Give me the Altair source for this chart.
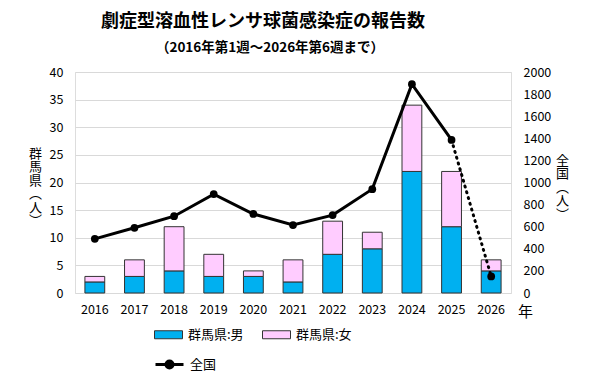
import altair as alt
import pandas as pd

years = ["2016", "2017", "2018", "2019", "2020", "2021", "2022", "2023", "2024", "2025", "2026"]
male = [2, 3, 4, 3, 3, 2, 7, 8, 22, 12, 4]
female = [1, 3, 8, 4, 1, 4, 6, 3, 12, 10, 2]
national = [490, 590, 695, 895, 715, 615, 705, 940, 1890, 1385, 150]
right_ticks = [0, 200, 400, 600, 800, 1000, 1200, 1400, 1600, 1800, 2000]
left_ticks = [0, 5, 10, 15, 20, 25, 30, 35, 40]

sex_labels = ["群馬県:男", "群馬県:女"]
title_text = "劇症型溶血性レンサ球菌感染症の報告数"
subtitle_text = "（2016年第1週～2026年第6週まで）"
FONT = "Noto Sans CJK JP"

rows = []
for y, m, f in zip(years, male, female):
    rows.append({"year": y, "sex": sex_labels[0], "n": m, "o": 0})
    rows.append({"year": y, "sex": sex_labels[1], "n": f, "o": 1})
bars_df = pd.DataFrame(rows)

nat_df = pd.DataFrame({"year": years, "nat": national, "s": "全国"})
solid_df = nat_df.iloc[:-1]
dotted_df = nat_df.iloc[-2:]

x_enc = alt.X(
    "year:N",
    sort=years,
    scale=alt.Scale(paddingInner=0.5, paddingOuter=0.25),
    axis=alt.Axis(
        title="年", titleX=450, titleY=18, titleAngle=0, titleBaseline="middle",
        titleAlign="center", titleFontSize=15, titleFontWeight="normal",
        labelAngle=0, ticks=False, domain=False, labelPadding=10,
        labelFontSize=12.5, labelFont=FONT, titleFont=FONT,
    ),
)

bars = alt.Chart(bars_df).mark_bar(stroke="#333333", strokeWidth=1).encode(
    x=x_enc,
    y=alt.Y(
        "n:Q", stack="zero",
        scale=alt.Scale(domain=[0, 40]),
        axis=alt.Axis(
            values=left_ticks, grid=True, gridColor="#D9D9D9",
            ticks=False, domain=False, labelPadding=12, labelFontSize=12.5,
            labelFont=FONT, labelOverlap=False,
            title=["群", "馬", "県", "︵", "人", "︶"], titleAngle=0,
            titleX=-40, titleY=81, titleAlign="center", titleBaseline="middle",
            titleFontSize=13, titleFontWeight="normal", titleLineHeight=13.5,
            titleFont=FONT,
        ),
    ),
    fill=alt.Fill(
        "sex:N",
        scale=alt.Scale(domain=sex_labels, range=["#00B0F0", "#FFCCFF"]),
        legend=alt.Legend(
            title=None, orient="none", legendX=79, legendY=248,
            direction="horizontal", columnPadding=16, labelOffset=5,
            symbolType="M-1,-0.2857H1V0.2857H-1Z", symbolSize=784,
            symbolStrokeColor="#333333", symbolStrokeWidth=1,
            labelFontSize=13, labelFont=FONT, labelColor="#000000", padding=0,
        ),
    ),
    order=alt.Order("o:Q", sort="ascending"),
)

nat_axis = alt.Axis(
    orient="right", values=right_ticks, format="d", grid=False,
    ticks=False, domain=False, labelPadding=12, labelFontSize=12.5,
    labelFont=FONT, labelOverlap=False,
    title=["全", "国", "︵", "人", "︶"], titleAngle=0,
    titleX=51, titleY=88, titleAlign="center", titleBaseline="middle",
    titleFontSize=13, titleFontWeight="normal", titleLineHeight=13.5,
    titleFont=FONT,
)


def y_nat():
    return alt.Y("nat:Q", scale=alt.Scale(domain=[0, 2000]), axis=nat_axis)


solid = alt.Chart(solid_df).mark_line(strokeWidth=3).encode(
    x=alt.X("year:N", sort=years),
    y=y_nat(),
    stroke=alt.Stroke(
        "s:N",
        scale=alt.Scale(domain=["全国"], range=["#000000"]),
        legend=alt.Legend(
            title=None, orient="none", legendX=79, legendY=277,
            labelOffset=5,
            symbolType="M-1,0H1M-0.25,0A0.25,0.25 0 1,1 0.25,0A0.25,0.25 0 1,1 -0.25,0Z",
            symbolSize=784, symbolStrokeWidth=3, symbolFillColor="#000000",
            symbolStrokeColor="#000000",
            labelFontSize=13, labelFont=FONT, labelColor="#000000", padding=0,
        ),
    ),
)

dotted = alt.Chart(dotted_df).mark_line(
    strokeWidth=3, strokeDash=[1, 5], strokeCap="round", color="#000000"
).encode(
    x=alt.X("year:N", sort=years),
    y=y_nat(),
)

points = alt.Chart(nat_df).mark_point(
    filled=True, size=60, color="#000000", opacity=1, shape="circle"
).encode(
    x=alt.X("year:N", sort=years),
    y=y_nat(),
)

lines = alt.layer(solid, dotted, points)

subtitle = alt.Chart(pd.DataFrame({"t": [subtitle_text]})).mark_text(
    font=FONT, fontSize=13.5, fontWeight="bold", color="#000000",
    align="center", baseline="middle",
).encode(
    text="t:N",
    x=alt.value(195),
    y=alt.value(-24),
)

chart = alt.layer(bars, lines, subtitle).resolve_scale(y="independent").properties(
    width=436,
    height=221,
    autosize=alt.AutoSizeParams(type="none"),
    padding={"left": 67, "top": 64, "right": 81, "bottom": 87},
    title=alt.TitleParams(
        text=title_text,
        anchor="middle", frame="group", dx=-30, offset=10,
        font=FONT, fontSize=18, fontWeight="bold", color="#000000",
    ),
).configure_view(
    stroke="#A6A6A6", strokeWidth=1
).configure(background="white")

chart.save("out.html", embed_options={"renderer": "svg", "actions": False})
